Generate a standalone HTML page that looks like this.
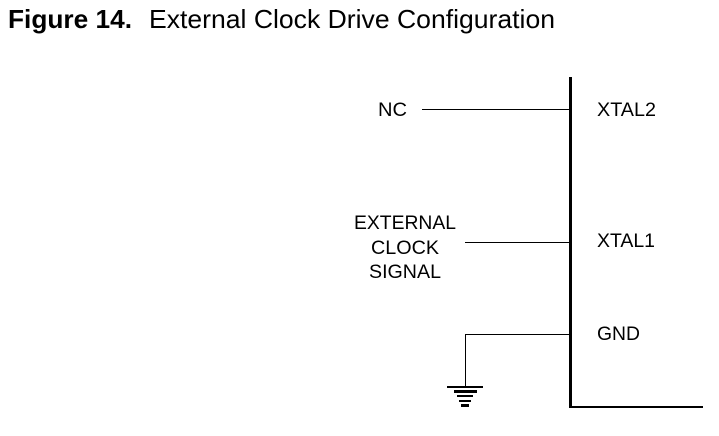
<!DOCTYPE html>
<html>
<head>
<meta charset="utf-8">
<style>
html,body{margin:0;padding:0;background:#fff;width:719px;height:436px;overflow:hidden}
svg{display:block}
text{font-family:"Liberation Sans",Arial,sans-serif;fill:#000}
.l{font-size:19.5px}
</style>
</head>
<body>
<svg width="719" height="436" viewBox="0 0 719 436" xmlns="http://www.w3.org/2000/svg">
<rect width="719" height="436" fill="#fff"/>
<text x="8" y="28" font-size="26" font-weight="bold" textLength="124" lengthAdjust="spacingAndGlyphs">Figure 14.</text>
<text x="149" y="28" font-size="26" textLength="406" lengthAdjust="spacingAndGlyphs">External Clock Drive Configuration</text>
<g fill="#000" shape-rendering="crispEdges">
<rect x="569" y="77" width="3" height="331"/>
<rect x="570" y="406" width="133" height="2"/>
<rect x="422" y="109" width="148" height="1"/>
<rect x="465" y="242" width="105" height="1"/>
<rect x="465" y="334" width="105" height="1"/>
<rect x="465" y="334" width="1" height="53"/>
<rect x="447" y="386" width="36" height="2"/>
<rect x="454" y="390" width="23" height="3"/>
<rect x="457" y="395" width="16" height="2"/>
<rect x="459" y="400" width="12" height="2"/>
<rect x="461" y="404" width="8" height="3"/>
</g>
<text class="l" x="378" y="116" textLength="29" lengthAdjust="spacingAndGlyphs">NC</text>
<text class="l" x="354" y="229" textLength="102" lengthAdjust="spacingAndGlyphs">EXTERNAL</text>
<text class="l" x="371" y="254" textLength="68" lengthAdjust="spacingAndGlyphs">CLOCK</text>
<text class="l" x="369" y="278" textLength="72" lengthAdjust="spacingAndGlyphs">SIGNAL</text>
<text class="l" x="597" y="116" textLength="59" lengthAdjust="spacingAndGlyphs">XTAL2</text>
<text class="l" x="597" y="247" textLength="58" lengthAdjust="spacingAndGlyphs">XTAL1</text>
<text class="l" x="597" y="340" textLength="43" lengthAdjust="spacingAndGlyphs">GND</text>
</svg>
</body>
</html>
